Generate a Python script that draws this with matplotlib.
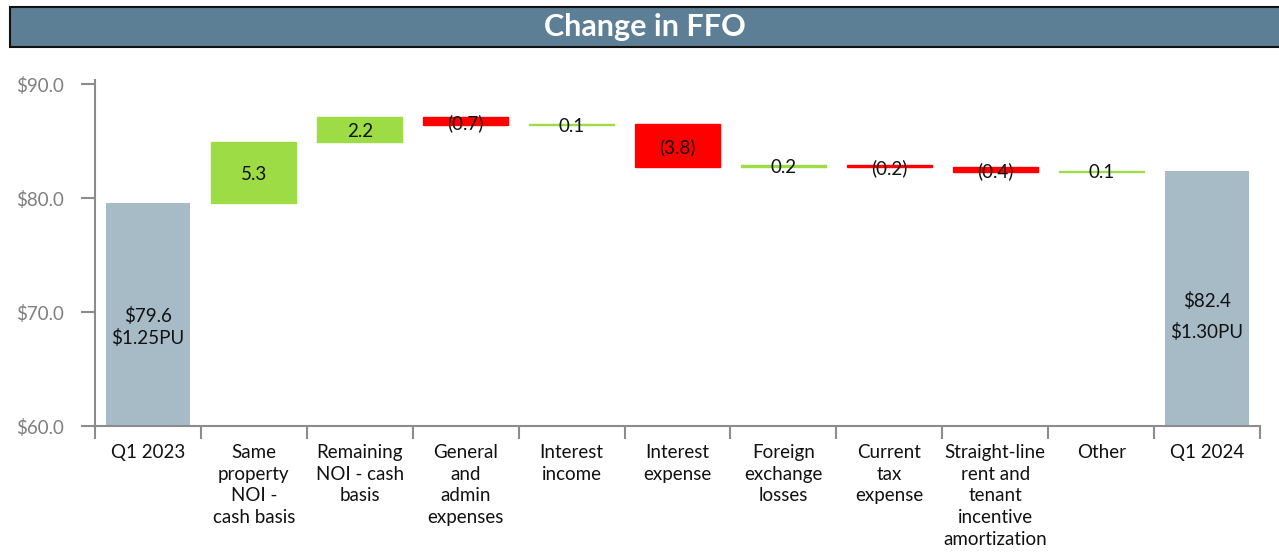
import matplotlib.pyplot as plt
from matplotlib.patches import Rectangle

plt.rcParams['font.family'] = ['Lato', 'DejaVu Sans']

categories = ['Q1 2023', 'Same\nproperty\nNOI -\ncash basis', 'Remaining\nNOI - cash\nbasis',
              'General\nand\nadmin\nexpenses', 'Interest\nincome', 'Interest\nexpense',
              'Foreign\nexchange\nlosses', 'Current\ntax\nexpense',
              'Straight-line\nrent and\ntenant\nincentive\namortization', 'Other', 'Q1 2024']
start_total = 79.6
changes = [5.3, 2.2, -0.7, 0.1, -3.8, 0.2, -0.2, -0.4, 0.1]
change_labels = ['5.3', '2.2', '(0.7)', '0.1', '(3.8)', '0.2', '(0.2)', '(0.4)', '0.1']
end_total = 82.4
total_labels = [('$79.6\n$1.25PU', 68.7, 1.3), ('$82.4\n$1.30PU', 69.6, 1.85)]

grey = '#A7BBC7'
green = '#9EDC45'
red = '#FF0000'

fig = plt.figure(figsize=(12.79, 5.53), dpi=100)
ax = fig.add_axes([95 / 1279, 1 - 426 / 553, (1260 - 95) / 1279, (426 - 79.5) / 553])

# totals
ax.bar(0, start_total, width=0.8, color=grey, bottom=0)
ax.bar(len(categories) - 1, end_total, width=0.8, color=grey, bottom=0)

# floating changes
level = start_total
for i, c in enumerate(changes):
    x = i + 1
    bottom = level if c >= 0 else level + c
    col = green if c >= 0 else red
    ax.bar(x, abs(c), bottom=bottom, width=0.8, color=col, edgecolor=col, linewidth=1)
    ax.text(x, bottom + abs(c) / 2 - 0.15, change_labels[i], ha='center', va='center',
            fontsize=13.5, color='#111111')
    level += c

for (txt, y, ls), x in zip(total_labels, [0, len(categories) - 1]):
    ax.text(x, y, txt, ha='center', va='center', fontsize=13.5, color='#111111', linespacing=ls)

ax.set_xlim(-0.5, len(categories) - 0.5)
ax.set_ylim(60, 90.4)
ax.set_yticks([60, 70, 80, 90])
ax.set_yticklabels(['$60.0', '$70.0', '$80.0', '$90.0'], fontsize=13.5, color='#7F7F7F')
ax.set_xticks(range(len(categories)))
ax.set_xticklabels(categories, fontsize=13.5, color='#111111', linespacing=1.33, va='top')
ax.tick_params(axis='x', length=0, pad=13)
ax.set_xticks([i - 0.5 for i in range(len(categories) + 1)], minor=True)
ax.tick_params(axis='x', which='minor', length=9, color='#8C8C8C', width=1.5)
ax.tick_params(axis='y', length=10, color='#8C8C8C', width=1.5, pad=12)

for s in ['top', 'right']:
    ax.spines[s].set_visible(False)
for s in ['left', 'bottom']:
    ax.spines[s].set_color('#8C8C8C')
    ax.spines[s].set_linewidth(1.5)

# title banner
fig.patches.append(Rectangle((10 / 1279, 1 - 47 / 553), 1.0, 40 / 553, transform=fig.transFigure,
                             facecolor='#5C7F96', edgecolor='#111111', linewidth=1.5))
fig.text(645 / 1279, 1 - 27 / 553, 'Change in FFO', ha='center', va='center',
         fontsize=22, fontweight='bold', color='white')

fig.savefig('out.png', dpi=100)
